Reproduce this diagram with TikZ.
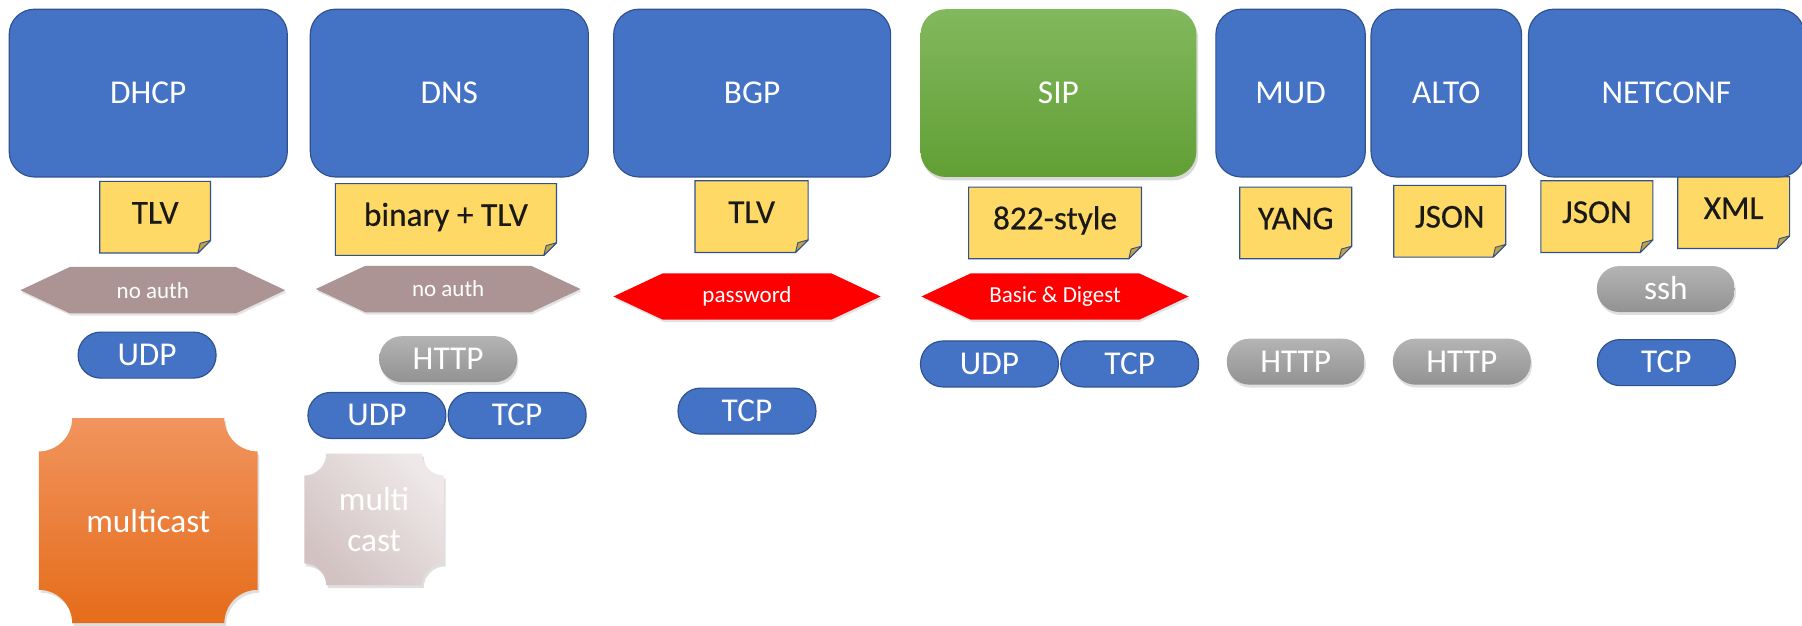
\documentclass[tikz,border=0pt]{standalone}
\usepackage{fontspec}
\setmainfont{Carlito}
\newfontfamily\notefont{Carlito}[FakeBold=0.5]
\usetikzlibrary{shadows,backgrounds}

\definecolor{boxblue}{RGB}{68,114,196}
\definecolor{edgeblue}{RGB}{47,82,143}
\definecolor{notegold}{RGB}{255,217,102}
\definecolor{foldgold}{RGB}{196,160,64}
\definecolor{authgray}{RGB}{172,148,148}
\definecolor{authred}{RGB}{255,0,0}
\definecolor{sipTop}{RGB}{130,184,94}
\definecolor{sipBot}{RGB}{97,159,52}
\definecolor{pillTop}{RGB}{180,180,180}
\definecolor{pillBot}{RGB}{146,146,146}
\definecolor{orangeTop}{RGB}{241,148,94}
\definecolor{orangeBot}{RGB}{229,108,26}
\definecolor{mistA}{RGB}{210,194,194}
\definecolor{mistB}{RGB}{238,232,232}

% sticky note with a folded lower right corner, drawn behind node #1
\newcommand\notecard[1]{%
  \filldraw[fill=notegold, draw=edgeblue, line width=1pt]
    (#1.north west) -- (#1.north east) -- ([yshift=11pt]#1.south east)
    -- ([xshift=-11pt]#1.south east) -- (#1.south west) -- cycle;
  \filldraw[fill=foldgold, draw=edgeblue, line width=0.8pt, line join=round]
    ([yshift=11pt]#1.south east) -- ([xshift=-11pt]#1.south east)
    -- ([xshift=-9pt,yshift=8.5pt]#1.south east) -- cycle;
}
% pointed band behind node #1, filled with colour #2
\newcommand\authband[2]{%
  \fill[#2, drop shadow={shadow xshift=1pt, shadow yshift=-2pt, opacity=0.22}]
    (#1.west) -- ([xshift=43pt]#1.north west) -- ([xshift=-43pt]#1.north east)
    -- (#1.east) -- ([xshift=-43pt]#1.south east) -- ([xshift=43pt]#1.south west)
    -- cycle;
}
% plaque with concave quarter-circle corners behind node #1, corner radius #2, style #3
\newcommand\plaque[3]{%
  \path[#3]
    ([xshift=#2]#1.north west) -- ([xshift=-#2]#1.north east)
    .. controls ([xshift=-#2, yshift=-0.552*#2]#1.north east)
            and ([xshift=-0.552*#2, yshift=-#2]#1.north east) .. ([yshift=-#2]#1.north east)
    -- ([yshift=#2]#1.south east)
    .. controls ([xshift=-0.552*#2, yshift=#2]#1.south east)
            and ([xshift=-#2, yshift=0.552*#2]#1.south east) .. ([xshift=-#2]#1.south east)
    -- ([xshift=#2]#1.south west)
    .. controls ([xshift=#2, yshift=0.552*#2]#1.south west)
            and ([xshift=0.552*#2, yshift=#2]#1.south west) .. ([yshift=#2]#1.south west)
    -- ([yshift=-#2]#1.north west)
    .. controls ([xshift=0.552*#2, yshift=-#2]#1.north west)
            and ([xshift=#2, yshift=-0.552*#2]#1.north west) .. ([xshift=#2]#1.north west)
    -- cycle;
}

\begin{document}
\begin{tikzpicture}[x=1pt, y=-1pt,
  big/.style={font=\fontsize{29}{35}\selectfont, inner sep=0pt},
  protobox/.style={big, text=white, draw=edgeblue, fill=boxblue, line width=1pt,
    rounded corners=22pt, minimum height=146pt},
  sipbox/.style={big, text=white, top color=sipTop, bottom color=sipBot, draw=none,
    rounded corners=22pt, minimum height=146pt,
    drop shadow={shadow xshift=1.5pt, shadow yshift=-3pt, opacity=0.3}},
  notetext/.style={font=\notefont\fontsize{29}{35}\selectfont, inner sep=0pt,
    text=black!90, minimum height=62pt, text height=19pt, text depth=8pt},
  authtext/.style={font=\fontsize{20}{24}\selectfont, text=white, inner sep=0pt,
    minimum width=230pt, minimum height=40pt},
  pill/.style={big, text=white, minimum width=120pt, minimum height=40pt,
    rounded corners=19.5pt, text height=18pt, text depth=0pt},
  bluepill/.style={pill, fill=boxblue, draw=edgeblue, line width=1pt},
  graypill/.style={pill, top color=pillTop, bottom color=pillBot, draw=none,
    drop shadow={shadow xshift=1pt, shadow yshift=-2.5pt, opacity=0.25}},
  plaquetext/.style={big, text=white, align=center}]

\useasboundingbox (0,0) rectangle (1568,544);

% protocol boxes
\node[protobox, minimum width=242pt] (dhcp) at (129,81) {DHCP};
\node[protobox, minimum width=242pt] (dns) at (391,81) {DNS};
\node[protobox, minimum width=241pt] (bgp) at (654.5,81) {BGP};
\node[sipbox, minimum width=240pt] (sip) at (921,81) {SIP};
\node[protobox, minimum width=130pt] (mud) at (1123,81) {MUD};
\node[protobox, minimum width=131pt] (alto) at (1258.5,81) {ALTO};
\node[protobox, minimum width=240pt] (netconf) at (1450,81) {NETCONF};

% encodings
\node[notetext, minimum width=96pt] (tlvA) at (135,189) {TLV};
\node[notetext, minimum width=192pt] (bintlv) at (388,191) {binary + TLV};
\node[notetext, minimum width=98pt] (tlvB) at (654,188.5) {TLV};
\node[notetext, minimum width=150pt] (rfc822) at (918,194) {822-style};
\node[notetext, minimum width=97pt] (yang) at (1127.5,194) {YANG};
\node[notetext, minimum width=97pt] (jsonA) at (1261.5,192.5) {JSON};
\node[notetext, minimum width=97pt] (jsonB) at (1389.5,188.5) {JSON};
\node[notetext, minimum width=97pt] (xml) at (1508.5,185) {XML};

% authentication
\node[authtext] (authA) at (133,252.5) {no auth};
\node[authtext] (authB) at (390,251.5) {no auth};
\node[authtext, minimum width=232pt] (pwd) at (650,258) {password};
\node[authtext, minimum width=232pt] (digest) at (918,258) {Basic \& Digest};

% transports
\node[bluepill] (udpA) at (128,309) {UDP};
\node[graypill] (httpA) at (390,312.5) {HTTP};
\node[bluepill] (udpB) at (328,361.5) {UDP};
\node[bluepill] (tcpB) at (450,361.5) {TCP};
\node[bluepill] (tcpC) at (650,357.7) {TCP};
\node[bluepill] (udpD) at (861,316.7) {UDP};
\node[bluepill] (tcpD) at (983,316.7) {TCP};
\node[graypill] (httpE) at (1127.5,314.7) {HTTP};
\node[graypill] (httpF) at (1272,314.7) {HTTP};
\node[graypill] (ssh) at (1449.5,251.5) {ssh};
\node[bluepill] (tcpG) at (1450,315.5) {TCP};

% multicast
\node[plaquetext, minimum width=190pt, minimum height=178pt] (mcA) at (129,453) {multicast};
\node[plaquetext, minimum width=121pt, minimum height=114pt] (mcB) at (325.5,452) {multi\\cast};

\begin{pgfonlayer}{background}
  \fill[white] (0,0) rectangle (1568,544);
  \notecard{tlvA}
  \notecard{bintlv}
  \notecard{tlvB}
  \notecard{rfc822}
  \notecard{yang}
  \notecard{jsonA}
  \notecard{jsonB}
  \notecard{xml}
  \authband{authA}{authgray}
  \authband{authB}{authgray}
  \authband{pwd}{authred}
  \authband{digest}{authred}
  \plaque{mcA}{29pt}{top color=orangeTop, bottom color=orangeBot,
    drop shadow={shadow xshift=1.5pt, shadow yshift=-2.5pt, opacity=0.25}}
  \plaque{mcB}{19pt}{bottom color=mistA, top color=mistB, shading angle=-45,
    drop shadow={shadow xshift=1.5pt, shadow yshift=-2.5pt, opacity=0.25}}
\end{pgfonlayer}
\end{tikzpicture}
\end{document}
